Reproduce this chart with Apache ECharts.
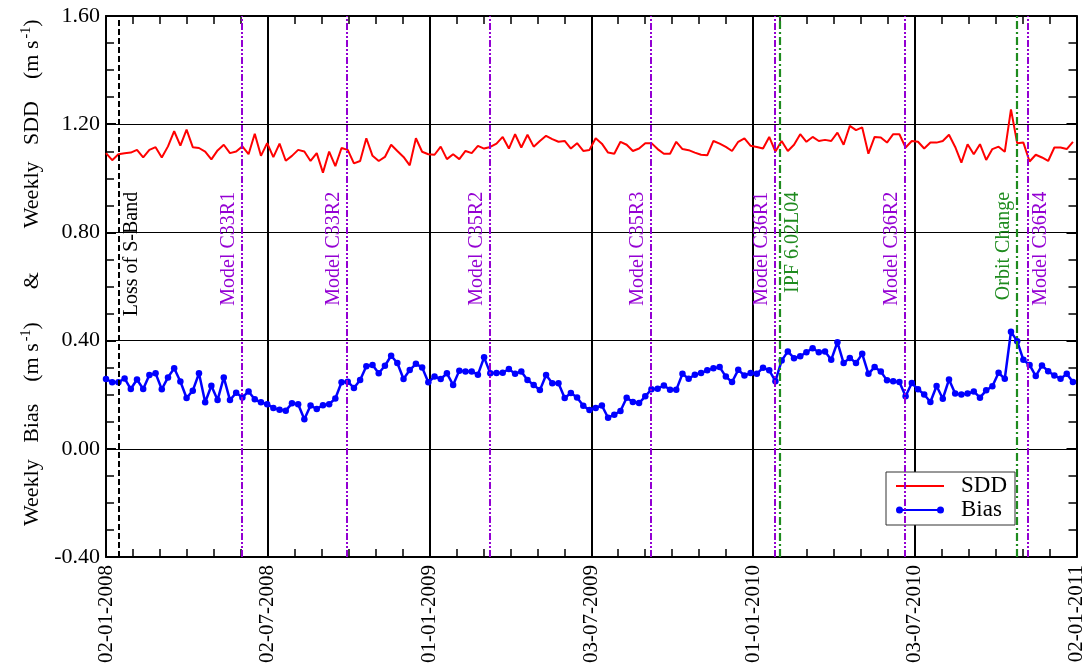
<!DOCTYPE html>
<html><head><meta charset="utf-8">
<script src="https://cdn.jsdelivr.net/npm/echarts@6/dist/echarts.min.js"></script>
<style>html,body{margin:0;padding:0;background:#fff}#c{width:1087px;height:667px}</style>
</head><body><div id="c"></div>
<script>
// ---- data ----
const xTickLabels = ['02-01-2008','02-07-2008','01-01-2009','03-07-2009','01-01-2010','03-07-2010','02-01-2011'];
const axisStartDate = '2008-01-02';
const axisEndDate = '2011-01-02';
const firstWeekDate = '2008-01-02';
const yMin = -0.4, yMax = 1.6, yStep = 0.4;

const sdd = [1.093,1.067,1.089,1.093,1.095,1.105,1.077,1.105,1.115,1.077,1.118,1.174,1.121,1.18,1.115,1.112,1.099,1.07,1.103,1.124,1.093,1.099,1.118,1.089,1.165,1.083,1.13,1.078,1.128,1.065,1.083,1.105,1.099,1.064,1.093,1.021,1.099,1.045,1.112,1.105,1.055,
1.064,1.148,1.083,1.064,1.079,1.124,1.101,1.079,1.048,1.148,1.098,1.089,1.087,1.117,1.071,1.089,1.071,1.101,1.093,1.12,1.11,1.116,1.128,1.153,1.11,1.163,1.114,1.161,1.117,1.138,1.157,1.145,1.135,1.138,1.11,1.13,1.101,1.105,1.148,1.128,1.095,1.091,1.135,1.124,1.101,1.11,1.13,1.13,1.108,1.091,1.091,1.135,1.108,1.104,1.095,1.087,1.085,1.138,1.128,1.116,
1.101,1.135,1.148,1.12,1.116,1.11,1.153,1.099,1.138,1.101,1.124,1.163,1.135,1.153,1.138,1.142,1.138,1.169,1.124,1.194,1.178,1.188,1.091,1.153,1.151,1.132,1.163,1.163,1.114,1.138,1.135,1.11,1.132,1.132,1.138,1.161,1.116,1.058,1.126,1.089,1.126,1.068,1.108,1.117,1.098,1.255,1.13,1.132,1.062,1.087,1.077,1.064,1.114,1.114,1.108,1.135];

const bias = [0.258,0.246,0.246,0.26,0.221,0.256,0.221,0.273,0.279,0.22,0.264,0.298,0.249,0.188,0.215,0.279,0.172,0.233,0.18,0.264,0.18,0.207,0.19,0.212,0.183,0.172,0.165,0.151,0.144,0.141,0.168,0.165,0.109,0.16,0.147,0.161,0.165,0.186,0.246,0.248,0.225,0.254,0.305,0.31,0.279,0.307,0.344,0.317,0.258,0.291,0.314,0.301,0.246,0.267,0.258,0.279,0.236,0.289,0.286,0.286,0.274,0.338,0.279,0.28,0.281,0.295,0.277,0.286,0.254,0.236,0.217,0.273,0.242,0.242,0.188,0.206,0.19,0.159,0.143,0.151,
0.16,0.115,0.126,0.14,0.189,0.173,0.169,0.194,0.22,0.222,0.234,0.218,0.218,0.277,0.259,0.274,0.28,0.29,0.298,0.302,0.267,0.247,0.292,0.271,0.28,0.277,0.3,0.29,0.25,0.326,0.36,0.335,0.342,0.357,0.372,0.357,0.36,0.329,0.394,0.317,0.336,0.317,0.351,0.277,0.302,0.286,0.253,0.25,0.247,0.194,0.243,0.22,0.201,0.173,0.232,0.185,0.256,0.204,0.201,0.204,0.212,0.189,0.216,0.231,0.281,0.259,0.433,0.398,0.329,0.31,0.269,0.308,0.287,0.271,0.259,0.277,0.247];

const eventNames = ['Loss of S-Band','Model C33R1','Model C33R2','Model C35R2','Model C35R3','Model C36R1','IPF 6.02L04','Model C36R2','Orbit Change','Model C36R4'];
const eventDates = ['2008-01-16','2008-06-03','2008-09-30','2009-03-10','2009-09-08','2010-01-26','2010-02-01','2010-06-22','2010-10-26','2010-11-08'];
const eventKinds = ['sband','model','model','model','model','model','ipf','model','orbit','model'];
const labelSide = ['right','left','left','left','left','left','right','left','left','right'];
const labelTopValue = 0.95;

// ---- helpers ----
const DAY = 86400000;
const dayOf = s => (Date.parse(s + 'T00:00:00Z') - Date.parse(axisStartDate + 'T00:00:00Z')) / DAY;
const xMax = dayOf(axisEndDate);
const xStep = xMax / (xTickLabels.length - 1);
const week0 = dayOf(firstWeekDate);
const sddData = sdd.map((v, i) => [week0 + 7 * i, v]);
const biasData = bias.map((v, i) => [week0 + 7 * i, v]);

const FONT = '"Liberation Serif", "Times New Roman", serif';
const kindStyle = {
  sband: {color: '#000000', type: [6, 3], width: 2},
  model: {color: '#9400D3', type: [7, 2, 2, 2, 2, 2], width: 2},
  ipf:   {color: '#1E8B1E', type: [8, 3, 2, 3], width: 2.2},
  orbit: {color: '#1E8B1E', type: [8, 3, 2, 3], width: 2.2}
};
const textColor = {sband: '#000', model: '#9400D3', ipf: '#1E8B1E', orbit: '#1E8B1E'};
const iconLine = 'path://M0,0h48v2h-48z';
const iconLineDots = 'path://M0,3.5a3.5,3.5 0 1,1 7,0a3.5,3.5 0 1,1 -7,0zM41,3.5a3.5,3.5 0 1,1 7,0a3.5,3.5 0 1,1 -7,0zM3.5,2.5h41v2h-41z';

const xCommon = {
  type: 'value', min: 0, max: xMax, interval: xStep,
  axisLine: {onZero: false, lineStyle: {color: '#000', width: 2}},
  axisTick: {inside: true, length: 10, lineStyle: {color: '#000', width: 2}},
  minorTick: {show: true, splitNumber: 6, length: 8, lineStyle: {color: '#000', width: 1.5}}
};
const yCommon = {
  type: 'value', min: yMin, max: yMax, interval: yStep,
  axisLine: {onZero: false, lineStyle: {color: '#000', width: 2}},
  axisTick: {inside: true, length: 10, lineStyle: {color: '#000', width: 2}},
  minorTick: {show: true, splitNumber: 4, length: 8, lineStyle: {color: '#000', width: 1.5}}
};

const chart = echarts.init(document.getElementById('c'), null, {renderer: 'canvas'});
chart.setOption({
  animation: false,
  backgroundColor: '#fff',
  grid: {left: 106, right: 6, top: 16, bottom: 110, containLabel: false},
  xAxis: [
    Object.assign({}, xCommon, {
      position: 'bottom',
      splitLine: {show: true, lineStyle: {color: '#000', width: 2}},
      axisLabel: {rotate: 90, margin: 8, fontFamily: FONT, fontSize: 21, color: '#000',
        formatter: v => xTickLabels[Math.round(v / xStep)] || ''}
    }),
    Object.assign({}, xCommon, {position: 'top', axisLabel: {show: false}, splitLine: {show: false}})
  ],
  yAxis: [
    Object.assign({}, yCommon, {
      position: 'left',
      splitLine: {show: true, lineStyle: {color: '#000', width: 1}},
      axisLabel: {margin: 6, fontFamily: FONT, fontSize: 22, color: '#000', formatter: v => v.toFixed(2)},
      name: '{a|     Weekly   Bias    (m s}{s|-1}{a|)      &        Weekly   SDD    (m s}{s|-1}{a|)}',
      nameLocation: 'middle', nameRotate: 90, nameGap: 58,
      nameTextStyle: {
        rich: {
          a: {fontFamily: FONT, fontSize: 22, color: '#000', lineHeight: 26},
          s: {fontFamily: FONT, fontSize: 14, color: '#000', verticalAlign: 'top', lineHeight: 26, padding: [0, 0, 10, 2]}
        }
      }
    }),
    Object.assign({}, yCommon, {position: 'right', axisLabel: {show: false}, splitLine: {show: false}})
  ],
  legend: {
    left: 886, top: 472, orient: 'vertical',
    data: [{name: 'SDD', icon: iconLine}, {name: 'Bias', icon: iconLineDots}],
    symbolKeepAspect: true,
    itemStyle: {borderWidth: 0},
    backgroundColor: '#fff', borderColor: '#333', borderWidth: 1,
    padding: [2, 8, 3, 10], itemGap: 0, itemWidth: 48, itemHeight: 14,
    textStyle: {fontFamily: FONT, fontSize: 23, color: '#000', lineHeight: 24, padding: [0, 0, 0, 12]}
  },
  series: [
    {
      name: 'SDD', type: 'line', data: sddData, showSymbol: false, symbol: 'none',
      lineStyle: {color: '#ff0000', width: 2}, itemStyle: {color: '#ff0000'},
      z: 3,
      markLine: {
        silent: true, symbol: ['none', 'none'], label: {show: false}, animation: false,
        data: eventDates.map((d, i) => ({xAxis: dayOf(d), lineStyle: kindStyle[eventKinds[i]]}))
      }
    },
    {
      name: 'Bias', type: 'line', data: biasData, symbol: 'circle', symbolSize: 6.5,
      lineStyle: {color: '#0000ff', width: 2.5}, itemStyle: {color: '#0000ff'}, z: 4
    },
    {
      name: 'events', type: 'custom', silent: true, z: 5,
      data: eventDates.map(d => [dayOf(d)]),
      renderItem: (params, api) => {
        const i = params.dataIndex;
        const p = api.coord([api.value(0), labelTopValue]);
        const right = labelSide[i] === 'right';
        return {
          type: 'text', x: p[0] + (right ? 3 : -3), y: p[1], rotation: Math.PI / 2,
          style: {text: eventNames[i], fill: textColor[eventKinds[i]], font: '20px ' + FONT,
            align: 'right', verticalAlign: right ? 'top' : 'bottom'}
        };
      }
    }
  ]
});
</script></body></html>
